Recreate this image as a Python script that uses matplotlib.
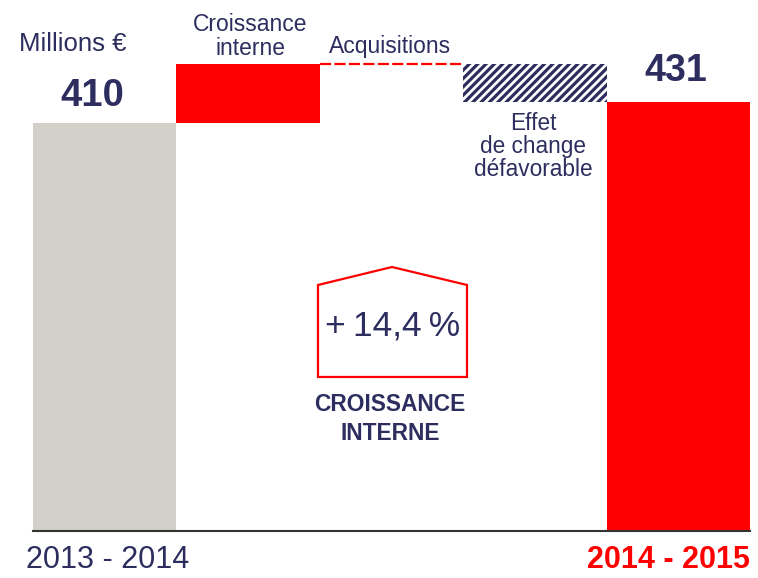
import matplotlib.pyplot as plt
from matplotlib.patches import Polygon

plt.rcParams['font.family'] = ['Liberation Sans', 'DejaVu Sans']
plt.rcParams['hatch.linewidth'] = 2.3

# === Data (millions €) ===
steps = ["2013 - 2014", "Croissance\ninterne", "Acquisitions",
         "Effet\nde change\ndéfavorable", "2014 - 2015"]
values = [410, 59, 0, -38, 431]
is_total = [True, False, False, False, True]
growth_label = "+\u200914,4\u2009%"
growth_caption = "CROISSANCE\nINTERNE"

navy = '#2d2e5f'
red = '#ff0000'
grey = '#d3d0ca'

fig = plt.figure(figsize=(7.58, 5.78), dpi=100)
ax = fig.add_axes([33 / 758, 47.5 / 578, 717 / 758, 530.5 / 578])
ax.set_xlim(-0.5, len(steps) - 0.5)
ax.set_ylim(0, 533.4)

# === Waterfall bars ===
running = 0
tops = []
bottoms = []
for i, (v, tot) in enumerate(zip(values, is_total)):
    if tot:
        b, t = 0, v
        running = v
    else:
        b, t = running, running + v
        running = t
    bottoms.append(min(b, t))
    tops.append(max(b, t))

# totals
ax.bar(0, values[0], width=1, color=grey, linewidth=0)
ax.bar(4, values[4], width=1, color=red, linewidth=0)
# internal growth
ax.bar(1, tops[1] - bottoms[1], bottom=bottoms[1], width=1, color=red, linewidth=0)
# acquisitions (zero change) -> dashed red line
ax.hlines(tops[2], 1.5, 2.5, colors=red, linewidth=1.6, linestyles=(0, (5, 1.5)))
# FX effect, hatched
ax.bar(3, tops[3] - bottoms[3], bottom=bottoms[3], width=1, facecolor='white',
       edgecolor=navy, hatch='////', linewidth=0)

# === Labels ===
ax.annotate(str(values[0]), xy=(0, tops[0]), xytext=(-8.6, 6.3), textcoords='offset points',
            ha='center', va='bottom', fontsize=27.5, fontweight='bold', color=navy)
ax.annotate(str(values[4]), xy=(4, tops[4]), xytext=(-2, 9), textcoords='offset points',
            ha='center', va='bottom', fontsize=27, fontweight='bold', color=navy)
ax.annotate(steps[1], xy=(1, tops[1]), xytext=(1.5, 3), textcoords='offset points',
            ha='center', va='bottom', fontsize=16.5, color=navy, linespacing=1.05)
ax.annotate(steps[2], xy=(2, tops[2]), xytext=(-1, 4.7), textcoords='offset points',
            ha='center', va='bottom', fontsize=16.5, color=navy)
ax.annotate(steps[3], xy=(3, bottoms[3]), xytext=(-1.5, -7), textcoords='offset points',
            ha='center', va='top', fontsize=16.3, color=navy, linespacing=1.0)

ax.text(0.0558, 0.917, "Millions €", transform=ax.transAxes, ha='center', va='center',
        fontsize=18.5, color=navy)

# bottom period labels
ax.annotate(steps[0], xy=(0, 0), xytext=(2, -10.5), textcoords='offset points',
            ha='center', va='top', fontsize=22, color=navy, annotation_clip=False)
ax.annotate(steps[4], xy=(4, 0), xytext=(-7, -10.5), textcoords='offset points',
            ha='center', va='top', fontsize=22, fontweight='bold', color=red,
            annotation_clip=False)

# === Growth callout ===
house = Polygon([(0.3975, 0.2894), (0.3975, 0.4628), (0.5007, 0.4967),
                 (0.6053, 0.4628), (0.6053, 0.2894)], closed=True, fill=False,
                edgecolor=red, linewidth=1.6, transform=ax.transAxes)
ax.add_patch(house)
ax.text(0.502, 0.3855, growth_label, transform=ax.transAxes, ha='center', va='center',
        fontsize=25.5, color=navy)
ax.text(0.498, 0.210, growth_caption, transform=ax.transAxes, ha='center', va='center',
        fontsize=16.4, fontweight='bold', color=navy, linespacing=1.3)

# === Axes styling ===
for s in ['top', 'right', 'left']:
    ax.spines[s].set_visible(False)
ax.spines['bottom'].set_color('#333333')
ax.spines['bottom'].set_linewidth(1.5)
ax.set_xticks([])
ax.set_yticks([])

fig.savefig("out.png", dpi=100)
